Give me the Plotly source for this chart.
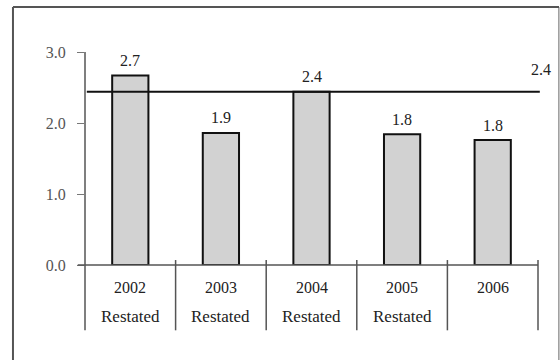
import plotly.graph_objects as go

years = ["2002", "2003", "2004", "2005", "2006"]
sublabels = ["Restated", "Restated", "Restated", "Restated", ""]
values = [2.67, 1.86, 2.44, 1.84, 1.76]
value_labels = ["2.7", "1.9", "2.4", "1.8", "1.8"]
ref_value = 2.44
ref_label = "2.4"
y_ticks = [0, 1, 2, 3]
y_ticktext = ["0.0", "1.0", "2.0", "3.0"]

FONT = "'Liberation Serif', 'Times New Roman', Times, serif"
n = len(years)
xpos = list(range(n))
YMAX = 3.0

fig = go.Figure()
fig.add_trace(go.Bar(
    x=xpos, y=values, width=0.4,
    marker=dict(color="#d2d2d2", line=dict(color="#111111", width=2)),
    hoverinfo="skip",
))

# paper-coordinate helpers (plot area: y 0..YMAX -> paper 0..1)
def py(v):
    return v / YMAX

def px(v):
    return (v + 0.5) / n

annotations = []
for xi, v, lab in zip(xpos, values, value_labels):
    annotations.append(dict(x=xi, y=v, xref="x", yref="y", text=lab, showarrow=False,
                            yshift=15, font=dict(family=FONT, size=16, color="#222")))
for xi, yr, sub in zip(xpos, years, sublabels):
    annotations.append(dict(x=px(xi), y=py(-0.31), xref="paper", yref="paper", text=yr,
                            xanchor="center", yanchor="middle",
                            showarrow=False, font=dict(family=FONT, size=16, color="#222")))
    if sub:
        annotations.append(dict(x=px(xi), y=py(-0.73), xref="paper", yref="paper", text=sub,
                                xanchor="center", yanchor="middle",
                                showarrow=False, font=dict(family=FONT, size=17, color="#222")))
annotations.append(dict(x=px(n - 0.47), y=py(ref_value), xref="paper", yref="paper", text=ref_label,
                        xanchor="center", yanchor="middle",
                        showarrow=False, yshift=22, font=dict(family=FONT, size=16, color="#222")))

# outer frame geometry (paper coordinates)
FL, FR, FT, FB = -0.159, 1.046, 1.211, -0.46

# top frame edge drawn as a thin filled annotation box
annotations.append(dict(x=(FL + FR) / 2, y=FT, xref="paper", yref="paper", text=" ",
                        xanchor="center", yanchor="middle", showarrow=False,
                        width=546, height=2, bgcolor="#555", borderpad=0, borderwidth=0,
                        font=dict(size=1)))

shapes = []
# y-axis line extended down
shapes.append(dict(type="line", xref="paper", yref="paper", x0=0, x1=0, y0=1, y1=py(-0.92),
                   line=dict(color="#555", width=1.5)))
# x-axis line
shapes.append(dict(type="line", xref="paper", yref="paper", x0=px(-0.58), x1=1, y0=0, y1=0,
                   line=dict(color="#555", width=1.5)))
# category separators
for i in range(1, n + 1):
    shapes.append(dict(type="line", xref="paper", yref="paper", x0=px(i - 0.5), x1=px(i - 0.5),
                       y0=py(0.07), y1=py(-0.92), line=dict(color="#555", width=1.5)))
# reference line
shapes.append(dict(type="line", xref="paper", yref="y", x0=px(-0.48), x1=px(n - 0.48),
                   y0=ref_value, y1=ref_value, line=dict(color="#111", width=2)))
# outer frame sides and top
shapes.append(dict(type="line", xref="paper", yref="paper", x0=FL, y0=FB, x1=FL, y1=FT,
                   line=dict(color="#555", width=2)))
shapes.append(dict(type="line", xref="paper", yref="paper", x0=FR, y0=FB, x1=FR, y1=FT,
                   line=dict(color="#999", width=1.5)))
shapes.append(dict(type="line", xref="paper", yref="paper", x0=FL, y0=FT, x1=FR, y1=FT,
                   line=dict(color="#555", width=2)))

fig.update_layout(
    width=560, height=360,
    margin=dict(l=85, r=22, t=52, b=95),
    paper_bgcolor="white", plot_bgcolor="white",
    showlegend=False,
    font=dict(family=FONT, size=16, color="#444"),
    xaxis=dict(range=[-0.5, n - 0.5], showticklabels=False, showgrid=False,
               showline=False, zeroline=False, ticks=""),
    yaxis=dict(range=[0, YMAX], tickvals=y_ticks, ticktext=y_ticktext, ticks="outside", ticklen=7,
               tickcolor="#777", tickwidth=1, showgrid=False, showline=False, zeroline=False,
               ticklabelstandoff=8, tickfont=dict(family=FONT, size=16, color="#555")),
    annotations=annotations,
    shapes=shapes,
)

fig.write_html("out.html", config={"displayModeBar": False},
               post_script="document.body.style.margin='0';")
